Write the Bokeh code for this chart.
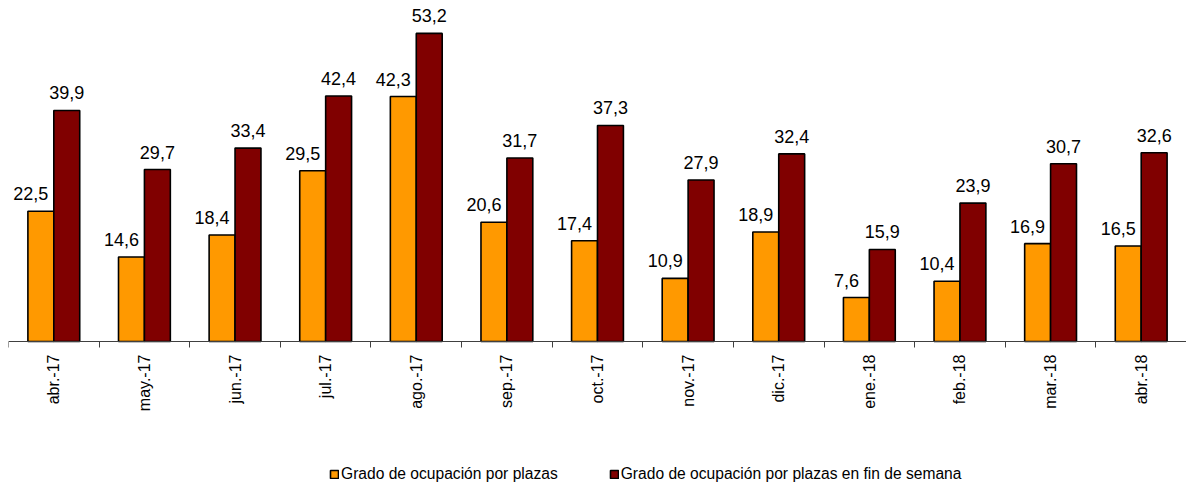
import math
from bokeh.plotting import figure
from bokeh.core.properties import value
from bokeh.models import (Range1d, FixedTicker, LabelSet, ColumnDataSource, Legend,
                          LegendItem, LinearAxis)
from bokeh.embed import file_html
from bokeh.resources import INLINE

months = ["abr.-17", "may.-17", "jun.-17", "jul.-17", "ago.-17", "sep.-17", "oct.-17",
          "nov.-17", "dic.-17", "ene.-18", "feb.-18", "mar.-18", "abr.-18"]
plazas = [22.5, 14.6, 18.4, 29.5, 42.3, 20.6, 17.4, 10.9, 18.9, 7.6, 10.4, 16.9, 16.5]
finde = [39.9, 29.7, 33.4, 42.4, 53.2, 31.7, 37.3, 27.9, 32.4, 15.9, 23.9, 30.7, 32.6]
series_names = ["Grado de ocupación por plazas",
                "Grado de ocupación por plazas en fin de semana"]
colors = ["#FF9900", "#800000"]

FONT = "Liberation Sans"
n = len(months)
centers = [i + 0.5 for i in range(n)]
bw = 0.286
label_dx = [-10, 0]

def fmt(v):
    return f"{v:.1f}".replace(".", ",")

p = figure(frame_width=1178, frame_height=479, output_backend="svg", toolbar_location=None,
           x_range=Range1d(0, n), y_range=Range1d(-25.2, 57.5),
           x_axis_location=None, y_axis_location=None,
           min_border_left=8, min_border_right=0, min_border_top=8, min_border_bottom=0)
p.outline_line_color = None
p.grid.visible = False

renderers = []
for k, (vals, col) in enumerate(zip([plazas, finde], colors)):
    xs = [c + (k - 0.5) * bw for c in centers]
    src = ColumnDataSource(dict(x=xs, top=vals, lab=[fmt(v) for v in vals]))
    r = p.vbar(x="x", top="top", bottom=0, width=bw, source=src, fill_color=col,
               line_color="black", line_width=1.6)
    renderers.append(r)
    p.add_layout(LabelSet(x="x", y="top", text="lab", source=src, y_offset=11,
                          x_offset=label_dx[k],
                          text_align="center", text_baseline="alphabetic",
                          text_font=value(FONT), text_font_size="18px", text_color="black"))

ax = LinearAxis(fixed_location=0)
ax.ticker = FixedTicker(ticks=centers, minor_ticks=list(range(n + 1)))
ax.major_label_overrides = {c: m for c, m in zip(centers, months)}
ax.major_tick_line_color = None
ax.major_tick_out = 5
ax.major_tick_in = 0
ax.minor_tick_out = 6
ax.minor_tick_in = 0
ax.minor_tick_line_color = "#404040"
ax.axis_line_color = "#404040"
ax.major_label_orientation = math.pi / 2
ax.major_label_standoff = 7
ax.major_label_text_font = FONT
ax.major_label_text_font_size = "16px"
ax.major_label_text_color = "black"
p.add_layout(ax, "below")

legend = Legend(items=[LegendItem(label=nm, renderers=[r]) for nm, r in zip(series_names, renderers)],
                orientation="horizontal", location=(321, 4), padding=0, margin=0,
                border_line_color=None, background_fill_alpha=0,
                glyph_width=10, glyph_height=10, label_standoff=2, spacing=51,
                label_text_font=FONT, label_text_font_size="15.6px", label_text_color="black")
p.add_layout(legend)

open("out.html", "w").write(file_html(p, INLINE))
